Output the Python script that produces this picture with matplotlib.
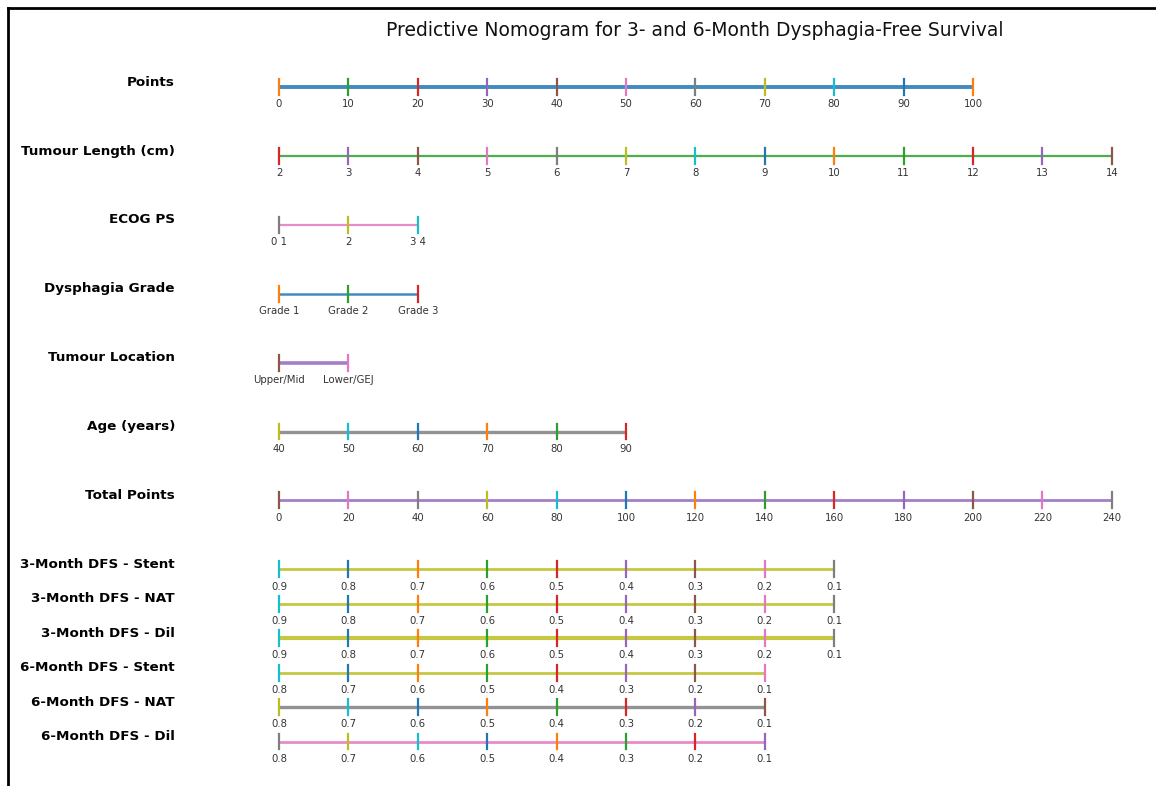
import numpy as np
import matplotlib.pyplot as plt
from matplotlib.lines import Line2D

# nomogram rows: label, tick positions (in points), tick labels
row_names = ["Points", "Tumour Length (cm)", "ECOG PS", "Dysphagia Grade",
             "Tumour Location", "Age (years)", "Total Points",
             "3-Month DFS - Stent", "3-Month DFS - NAT", "3-Month DFS - Dil",
             "6-Month DFS - Stent", "6-Month DFS - NAT", "6-Month DFS - Dil"]

points_vals = [0, 10, 20, 30, 40, 50, 60, 70, 80, 90, 100]
length_cm = [2, 3, 4, 5, 6, 7, 8, 9, 10, 11, 12, 13, 14]
length_pts = [0, 10, 20, 30, 40, 50, 60, 70, 80, 90, 100, 110, 120]
ecog_labels = ["0 1", "2", "3 4"]
ecog_pts = [0, 10, 20]
grade_labels = ["Grade 1", "Grade 2", "Grade 3"]
grade_pts = [0, 10, 20]
loc_labels = ["Upper/Mid", "Lower/GEJ"]
loc_pts = [0, 10]
age_years = [40, 50, 60, 70, 80, 90]
age_pts = [0, 10, 20, 30, 40, 50]
total_vals = [0, 20, 40, 60, 80, 100, 120, 140, 160, 180, 200, 220, 240]
total_pos = [0, 10, 20, 30, 40, 50, 60, 70, 80, 90, 100, 110, 120]
dfs3_labels = ["0.9", "0.8", "0.7", "0.6", "0.5", "0.4", "0.3", "0.2", "0.1"]
dfs3_pos = [0, 10, 20, 30, 40, 50, 60, 70, 80]
dfs6_labels = ["0.8", "0.7", "0.6", "0.5", "0.4", "0.3", "0.2", "0.1"]
dfs6_pos = [0, 10, 20, 30, 40, 50, 60, 70]

rows = [
    (points_vals, [str(v) for v in points_vals], 2.8),
    (length_pts, [str(v) for v in length_cm], 1.6),
    (ecog_pts, ecog_labels, 1.6),
    (grade_pts, grade_labels, 1.8),
    (loc_pts, loc_labels, 2.6),
    (age_pts, [str(v) for v in age_years], 2.4),
    (total_pos, [str(v) for v in total_vals], 2.0),
    (dfs3_pos, dfs3_labels, 2.0),
    (dfs3_pos, dfs3_labels, 2.0),
    (dfs3_pos, dfs3_labels, 3.0),
    (dfs6_pos, dfs6_labels, 2.0),
    (dfs6_pos, dfs6_labels, 2.4),
    (dfs6_pos, dfs6_labels, 2.0),
]
row_y = [0, 1, 2, 3, 4, 5, 6, 7, 7.5, 8, 8.5, 9, 9.5]

fig = plt.figure(figsize=(11.56, 7.86), dpi=100)
ax = fig.add_axes([0, 0, 1, 1])
px = 6.94  # pixels per point unit
ax.set_xlim(-279 / px, (1156 - 279) / px)
ax.set_ylim((786 - 87) / 68.9, -87 / 68.9)
ax.axis("off")

for name, (pos, labs, lw), y in zip(row_names, rows, row_y):
    ax.plot([pos[0], pos[-1]], [y, y], lw=lw, alpha=0.85, solid_capstyle="butt")
    for p, lab in zip(pos, labs):
        ax.plot([p, p], [y - 0.115, y + 0.115], lw=1.6)
        ax.text(p, y + 0.25, lab, ha="center", va="center", fontsize=7.3,
                color="#333333")
    ax.text(-15.0, y - 0.07, name, ha="right", va="center", fontsize=9.7,
            fontweight="bold")

fig.text(695 / 1156, 1 - 31 / 786, "Predictive Nomogram for 3- and 6-Month Dysphagia-Free Survival",
         ha="center", va="center", fontsize=13.5, color="#111111")

# screenshot frame
fig.add_artist(Line2D([8 / 1156, 8 / 1156], [0, 1 - 8 / 786], color="black", lw=2,
                      transform=fig.transFigure))
fig.add_artist(Line2D([8 / 1156, 1], [1 - 8 / 786, 1 - 8 / 786], color="black", lw=2,
                      transform=fig.transFigure))

fig.savefig("out.png", dpi=100)
